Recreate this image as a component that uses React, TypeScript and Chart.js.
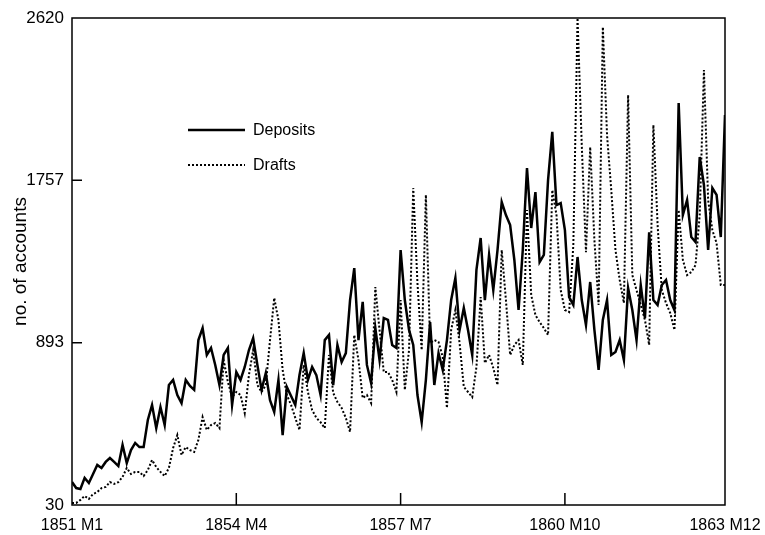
import React, { useEffect, useRef } from "react";
import { Chart, registerables } from "chart.js";

Chart.register(...registerables);

// Monthly number of accounts, 1851 M1 .. 1863 M12 (156 months)
const deposits = [
  152, 120, 115, 174, 147, 195, 243, 227, 259, 280, 259, 237,
  349, 253, 322, 360, 338, 338, 482, 562, 439, 551, 455, 668,
  695, 615, 572, 695, 663, 642, 907, 971, 828, 865, 775, 668,
  828, 865, 562, 737, 695, 764, 854, 918, 775, 642, 732, 588,
  525, 695, 402, 658, 610, 562, 721, 838, 695, 764, 721, 615,
  907, 934, 668, 881, 790, 838, 1120, 1290, 907, 1110, 775, 679,
  971, 801, 1024, 1014, 881, 865, 1386, 1120, 961, 881, 615, 471,
  695, 1003, 668, 838, 748, 907, 1120, 1237, 961, 1078, 961, 828,
  1280, 1450, 1120, 1360, 1173, 1386, 1641, 1572, 1519, 1333, 1067, 1386,
  1822, 1503, 1694, 1322, 1360, 1758, 2014, 1625, 1636, 1492, 1136, 1094,
  1349, 1120, 987, 1216, 961, 748, 1014, 1120, 828, 844, 907, 801,
  1184, 1067, 907, 1200, 1024, 1480, 1120, 1094, 1200, 1227, 1120, 1067,
  2168, 1572, 1652, 1455, 1429, 1881, 1732, 1386, 1716, 1679, 1455, 2104,
];

const drafts = [
  41, 41, 57, 78, 62, 88, 99, 120, 126, 152, 142, 152,
  179, 227, 195, 206, 206, 184, 216, 269, 232, 206, 184, 227,
  333, 402, 296, 338, 322, 312, 376, 498, 429, 455, 466, 439,
  801, 684, 604, 631, 615, 519, 721, 854, 668, 631, 668, 907,
  1131, 1014, 748, 615, 562, 493, 429, 775, 631, 535, 493, 470,
  439, 828, 626, 578, 546, 493, 418, 934, 801, 599, 615, 572,
  1189, 961, 737, 737, 695, 631, 1120, 642, 854, 1716, 1210, 854,
  1679, 891, 907, 897, 817, 546, 961, 1067, 891, 658, 631, 604,
  764, 1136, 785, 828, 759, 668, 1386, 1120, 828, 881, 907, 775,
  1599, 1147, 1040, 1003, 971, 934, 1705, 1572, 1173, 1067, 1056, 1413,
  2620, 1944, 1375, 1934, 1439, 1094, 2572, 1997, 1705, 1386, 1227, 1104,
  2210, 1253, 1173, 1094, 1014, 881, 2051, 1519, 1173, 1104, 1051, 961,
  1599, 1333, 1253, 1269, 1306, 1572, 2343, 1652, 1492, 1423, 1200, 1200,
];

const xTickIndices = [0, 39, 78, 117, 155];
const xTickLabels = ["1851 M1", "1854 M4", "1857 M7", "1860 M10", "1863 M12"];
const yTickValues = [30, 893, 1757, 2620];
const seriesNames = ["Deposits", "Drafts"];

const FONT = "'Liberation Sans', Arial, Helvetica, sans-serif";

const framePlugin = {
  id: "frameAndLegend",
  afterDatasetsDraw(chart: any) {
    const { ctx, chartArea: a, scales } = chart;
    ctx.save();
    ctx.strokeStyle = "#000";
    ctx.lineWidth = 1.5;
    ctx.setLineDash([]);
    ctx.strokeRect(a.left, a.top, a.right - a.left, a.bottom - a.top);
    ctx.beginPath();
    xTickIndices.slice(1, -1).forEach((i) => {
      const x = scales.x.getPixelForValue(i);
      ctx.moveTo(x, a.bottom);
      ctx.lineTo(x, a.bottom - 12);
    });
    yTickValues.slice(1, -1).forEach((v) => {
      const y = scales.y.getPixelForValue(v);
      ctx.moveTo(a.left, y);
      ctx.lineTo(a.left + 10, y);
    });
    ctx.stroke();

    // legend inside the plot
    const lx0 = a.left + 116;
    const lx1 = a.left + 173;
    const rows = [a.top + 112, a.top + 147];
    ctx.font = `16px ${FONT}`;
    ctx.fillStyle = "#000";
    ctx.textBaseline = "middle";
    ctx.textAlign = "left";
    rows.forEach((y, k) => {
      ctx.beginPath();
      if (k === 0) {
        ctx.lineWidth = 2.5;
        ctx.setLineDash([]);
      } else {
        ctx.lineWidth = 2;
        ctx.setLineDash([2, 2]);
      }
      ctx.moveTo(lx0, y);
      ctx.lineTo(lx1, y);
      ctx.stroke();
      ctx.fillText(seriesNames[k], lx1 + 8, y + 1);
    });
    ctx.restore();
  },
};

export default function App() {
  const ref = useRef<HTMLCanvasElement | null>(null);

  useEffect(() => {
    if (!ref.current) return;
    const chart = new Chart(ref.current, {
      type: "line",
      data: {
        datasets: [
          {
            label: seriesNames[0],
            data: deposits.map((v, i) => ({ x: i, y: v })),
            borderColor: "#000",
            borderWidth: 2.5,
            pointRadius: 0,
            tension: 0,
            fill: false,
          },
          {
            label: seriesNames[1],
            data: drafts.map((v, i) => ({ x: i, y: v })),
            borderColor: "#000",
            borderWidth: 2,
            borderDash: [2, 2],
            pointRadius: 0,
            tension: 0,
            fill: false,
          },
        ],
      },
      options: {
        animation: false,
        responsive: true,
        maintainAspectRatio: false,
        layout: { padding: { top: 18, right: 40, left: 0, bottom: 0 } },
        plugins: {
          legend: { display: false },
          tooltip: { enabled: false },
        },
        scales: {
          x: {
            type: "linear",
            min: 0,
            max: deposits.length - 1,
            grid: { display: false, drawTicks: false },
            border: { display: false },
            afterBuildTicks: (scale: any) => {
              scale.ticks = xTickIndices.map((v) => ({ value: v }));
            },
            afterFit: (scale: any) => {
              scale.height = 30;
              scale.paddingLeft = 0;
              scale.paddingRight = 0;
            },
            ticks: {
              autoSkip: false,
              maxRotation: 0,
              padding: 11,
              color: "#000",
              font: { family: FONT, size: 16 },
              callback: (v: any) => {
                const k = xTickIndices.indexOf(Number(v));
                return k >= 0 ? xTickLabels[k] : "";
              },
            },
          },
          y: {
            type: "linear",
            min: 30,
            max: 2620,
            grid: { display: false, drawTicks: false },
            border: { display: false },
            afterBuildTicks: (scale: any) => {
              scale.ticks = yTickValues.map((v) => ({ value: v }));
            },
            afterFit: (scale: any) => {
              scale.width = 72;
              scale.paddingTop = 0;
              scale.paddingBottom = 0;
            },
            title: {
              display: true,
              text: "no. of accounts",
              color: "#000",
              font: { family: FONT, size: 19 },
              padding: { top: 9, bottom: 0 },
            },
            ticks: {
              padding: 8,
              color: "#000",
              font: { family: FONT, size: 17 },
              callback: (v: any) => String(v),
            },
          },
        },
      },
      plugins: [framePlugin],
    });
    return () => chart.destroy();
  }, []);

  return (
    <div style={{ position: "absolute", left: 0, top: 0, width: 765, height: 535, background: "#fff" }}>
      <canvas ref={ref} />
    </div>
  );
}
